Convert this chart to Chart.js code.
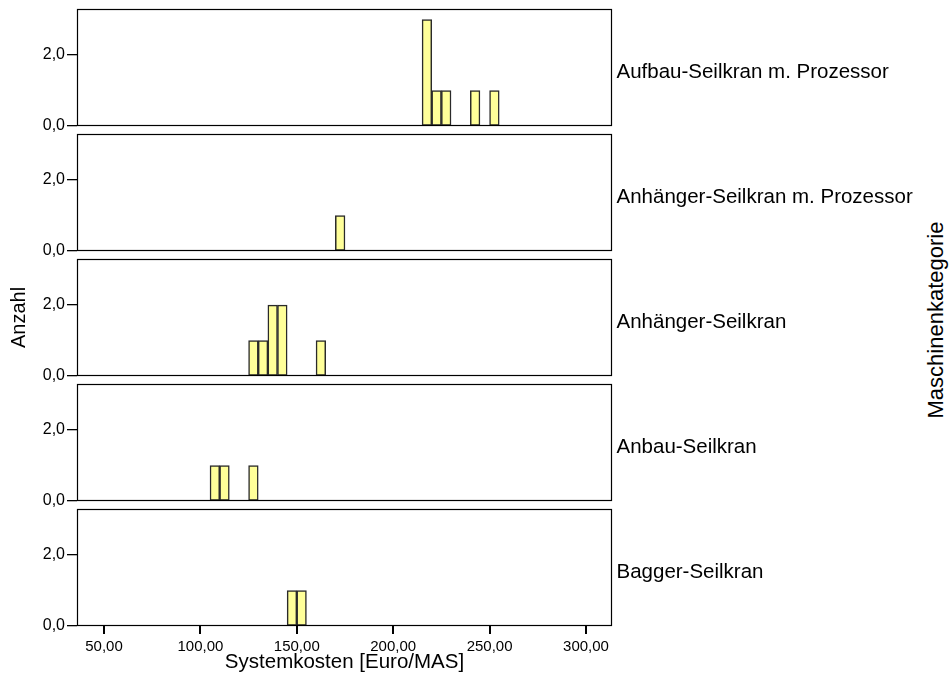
<!DOCTYPE html>
<html lang="de">
<head>
<meta charset="utf-8">
<title>Systemkosten nach Maschinenkategorie</title>
<script src="https://cdn.jsdelivr.net/npm/chart.js@4.4.1/dist/chart.umd.min.js"></script>
<style>
  body { margin: 0; background: #fff; width: 952px; height: 687px; position: relative; overflow: hidden; }
  canvas { position: absolute; left: 0; }
  #gruppe {
    position: absolute; left: 936px; top: 320px;
    transform: translate(-50%, -50%) rotate(-90deg);
    white-space: nowrap; font: 22px "Liberation Sans", Arial, sans-serif; color: #000;
  }
</style>
</head>
<body>
<div id="gruppe">Maschinenkategorie</div>
<script>
// Histogramm-Klassen (Untergrenzen, Breite 5 Euro/MAS)
const klassen = [105, 110, 115, 120, 125, 130, 135, 140, 145, 150,
                 155, 160, 165, 170, 175, 180, 185, 190, 195, 200,
                 205, 210, 215, 220, 225, 230, 235, 240, 245, 250];
const klassenBreite = 5;

const kategorien = ['Aufbau-Seilkran m. Prozessor', 'Anhänger-Seilkran m. Prozessor',
                    'Anhänger-Seilkran', 'Anbau-Seilkran', 'Bagger-Seilkran'];

// Anzahl je Klasse
const aufbauProzessor    = [0,0,0,0,0, 0,0,0,0,0, 0,0,0,0,0, 0,0,0,0,0, 0,0,3,1,1, 0,0,1,0,1];
const anhaengerProzessor = [0,0,0,0,0, 0,0,0,0,0, 0,0,0,1,0, 0,0,0,0,0, 0,0,0,0,0, 0,0,0,0,0];
const anhaenger          = [0,0,0,0,1, 1,2,2,0,0, 0,1,0,0,0, 0,0,0,0,0, 0,0,0,0,0, 0,0,0,0,0];
const anbau              = [1,1,0,0,1, 0,0,0,0,0, 0,0,0,0,0, 0,0,0,0,0, 0,0,0,0,0, 0,0,0,0,0];
const bagger             = [0,0,0,0,0, 0,0,0,1,1, 0,0,0,0,0, 0,0,0,0,0, 0,0,0,0,0, 0,0,0,0,0];
const anzahlen = [aufbauProzessor, anhaengerProzessor, anhaenger, anbau, bagger];

const xTicks = [50, 100, 150, 200, 250, 300];
const yTicks = [0, 2];

Chart.defaults.font.family = '"Liberation Sans", Arial, sans-serif';
Chart.defaults.color = '#000';

// Rahmen um die Zeichenfläche und Kategoriename rechts daneben
const rahmen = {
  id: 'rahmen',
  afterDatasetsDraw(chart, args, opts) {
    const ctx = chart.ctx;
    const a = chart.chartArea;
    ctx.save();
    ctx.strokeStyle = '#000';
    ctx.lineWidth = 1.2;
    ctx.strokeRect(Math.round(a.left) + 0.5, Math.round(a.top) + 0.5,
                   Math.round(a.width) - 1, Math.round(a.height) - 1);
    ctx.fillStyle = '#000';
    ctx.font = '20.5px "Liberation Sans", Arial, sans-serif';
    ctx.textBaseline = 'alphabetic';
    ctx.fillText(opts.label, a.right + 4.5, (a.top + a.bottom) / 2 + 10);
    ctx.restore();
  }
};

function panel(i) {
  const letztes = i === kategorien.length - 1;
  const top = 9 + 125 * i - 20;
  const canvas = document.createElement('canvas');
  canvas.width = 952;
  canvas.height = letztes ? 687 - top : 157;
  canvas.style.top = top + 'px';
  document.body.appendChild(canvas);

  new Chart(canvas, {
    type: 'bar',
    data: {
      datasets: [{
        data: klassen.map((k, j) => ({ x: k + klassenBreite / 2, y: anzahlen[i][j] })),
        backgroundColor: '#ffff99',
        borderColor: '#2a2a2a',
        borderWidth: c => (c.parsed && c.parsed.y ? 1.5 : 0),
        borderSkipped: false,
        barPercentage: 1,
        categoryPercentage: 1
      }]
    },
    options: {
      responsive: false,
      animation: false,
      layout: { padding: { top: 20, right: 340, bottom: letztes ? 0 : 20, left: 0 } },
      plugins: {
        legend: { display: false },
        tooltip: { enabled: false },
        rahmen: { label: kategorien[i] }
      },
      scales: {
        x: {
          type: 'linear',
          min: 36,
          max: 313.5,
          offset: false,
          display: letztes,
          afterBuildTicks: s => { s.ticks = xTicks.map(v => ({ value: v })); },
          afterFit: s => { if (letztes) s.height = 61; },
          grid: { offset: false, drawOnChartArea: false, tickLength: 8, color: '#000', lineWidth: 2 },
          border: { display: false },
          ticks: {
            font: { size: 15 }, padding: 4, maxRotation: 0, autoSkip: false,
            callback: v => v.toFixed(2).replace('.', ',')
          },
          title: {
            display: true, text: 'Systemkosten [Euro/MAS]',
            font: { size: 20.5 }, padding: { top: 0, bottom: 12 }
          }
        },
        y: {
          min: 0,
          max: 3.3,
          afterBuildTicks: s => { s.ticks = yTicks.map(v => ({ value: v })); },
          afterFit: s => { s.width = 77; },
          grid: { drawOnChartArea: false, tickLength: 10, color: '#000', lineWidth: 1.3 },
          border: { display: false },
          ticks: {
            font: { size: 16 }, padding: 2,
            callback: v => v.toFixed(1).replace('.', ',')
          },
          title: {
            display: i === 2, text: 'Anzahl',
            font: { size: 20 }, padding: { top: 7, bottom: 0 }
          }
        }
      }
    },
    plugins: [rahmen]
  });
}

kategorien.forEach((k, i) => panel(i));
</script>
</body>
</html>
